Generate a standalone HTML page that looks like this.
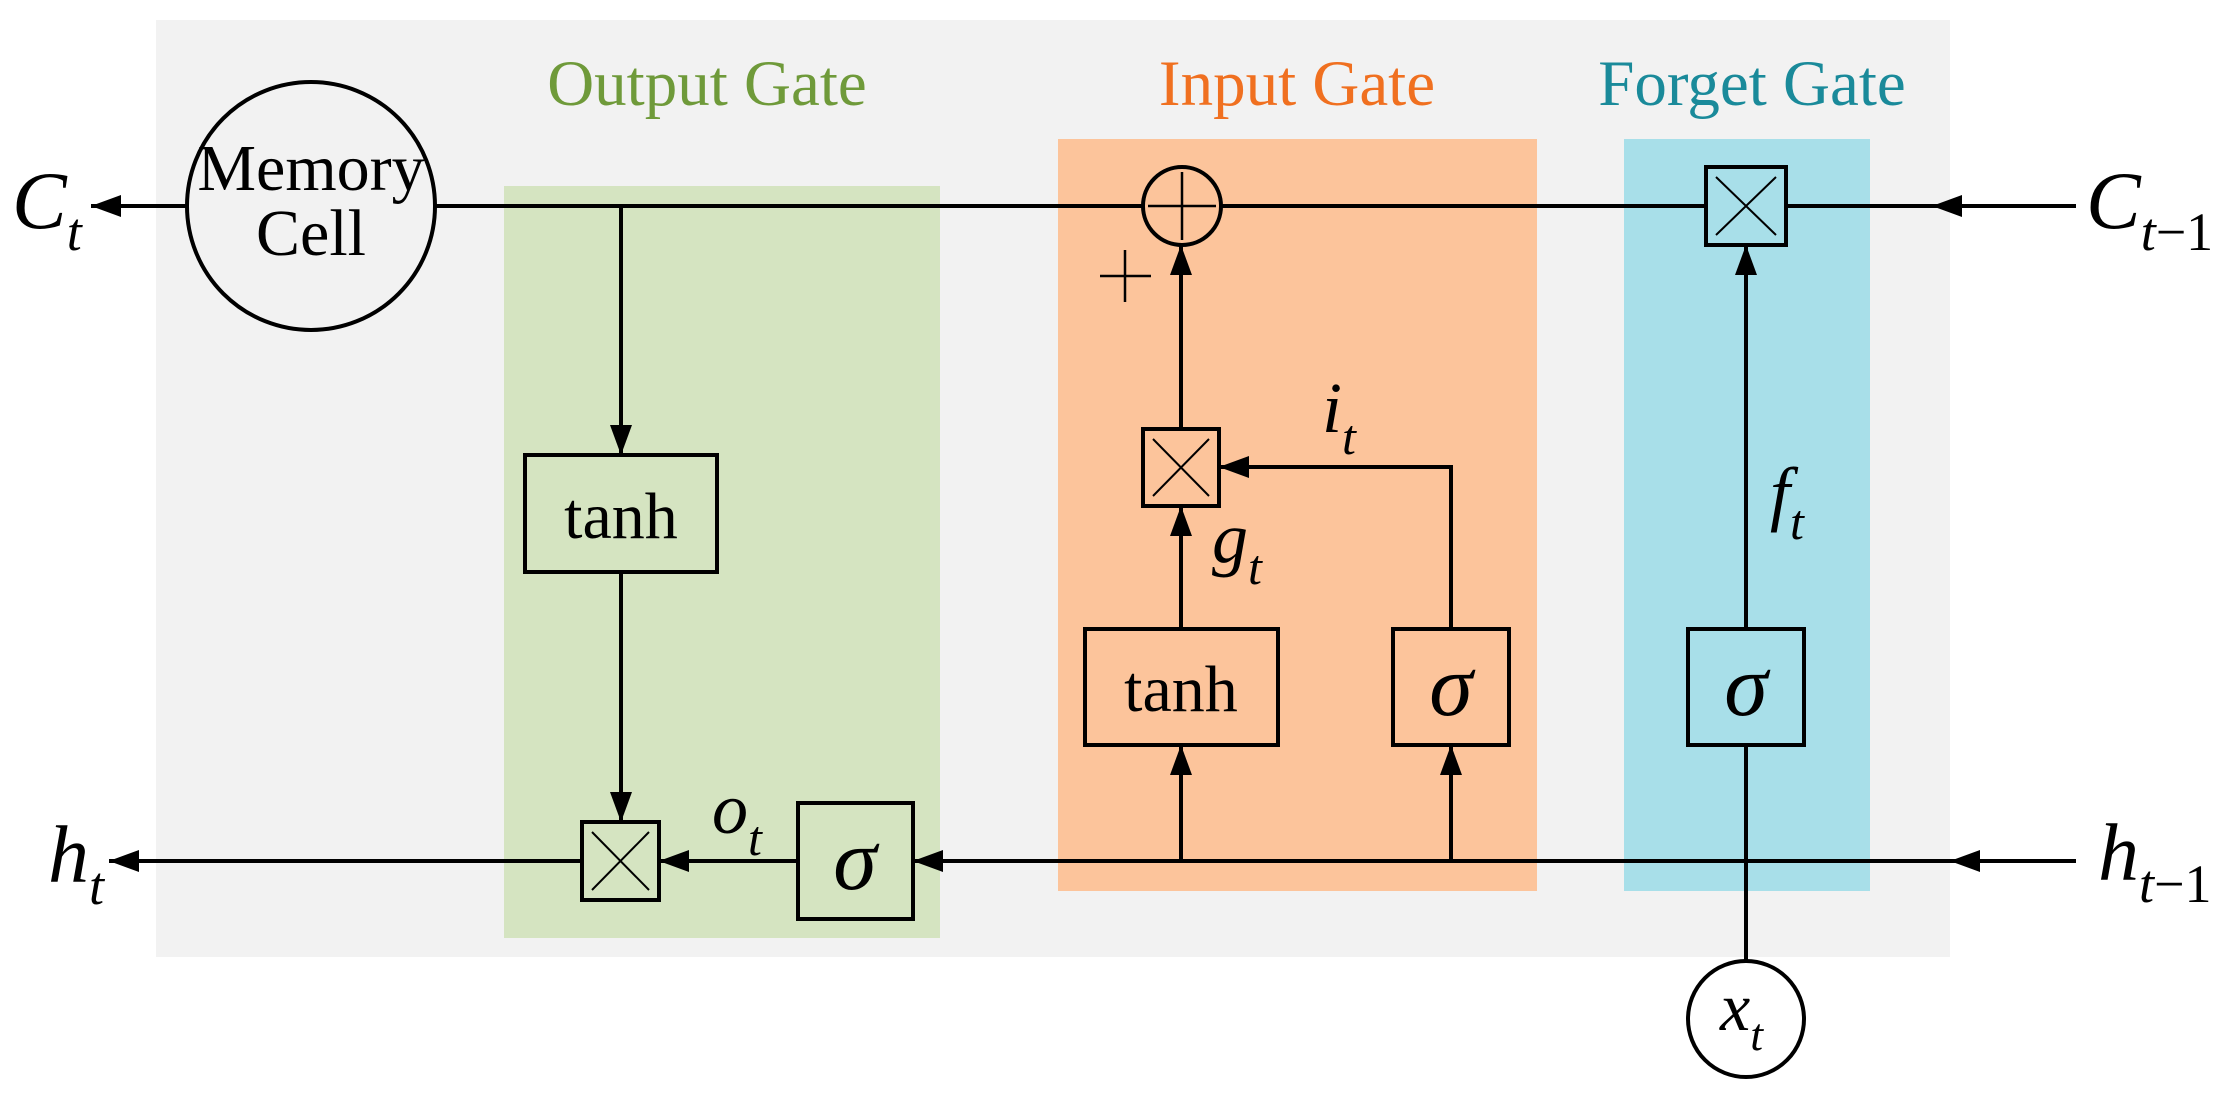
<!DOCTYPE html>
<html><head><meta charset="utf-8"><style>
html,body{margin:0;padding:0;background:#fff}
svg{display:block}
text{font-family:"Liberation Serif","DejaVu Serif",serif}
.it{font-style:italic}
</style></head><body>
<svg width="2215" height="1102" viewBox="0 0 2215 1102" xmlns="http://www.w3.org/2000/svg">
<defs>
<marker id="a" markerUnits="userSpaceOnUse" markerWidth="32" markerHeight="22" refX="30" refY="11" orient="auto">
<path d="M0,0 L30,11 L0,22 Z" fill="#000"/>
</marker>
</defs>
<rect x="156" y="20" width="1794" height="937" fill="#f2f2f2"/>
<rect x="504" y="186" width="436" height="752" fill="#d5e4c1"/>
<rect x="1058" y="139" width="479" height="752" fill="#fcc49b"/>
<rect x="1624" y="139" width="246" height="752" fill="#a8dfe9"/>

<text x="707" y="105" font-size="65" fill="#6f9a3a" text-anchor="middle">Output Gate</text>
<text x="1297" y="105" font-size="65" fill="#f07020" text-anchor="middle">Input Gate</text>
<text x="1752" y="105" font-size="65" fill="#1a8a9a" text-anchor="middle">Forget Gate</text>

<g stroke="#000" stroke-width="4" fill="none">
<line x1="188" y1="206" x2="91" y2="206" marker-end="url(#a)"/>
<line x1="435" y1="206" x2="1143" y2="206"/>
<line x1="1221" y1="206" x2="1706" y2="206"/>
<line x1="2076" y1="206" x2="1932" y2="206" marker-end="url(#a)"/>
<line x1="1935" y1="206" x2="1786" y2="206"/>
<line x1="621" y1="206" x2="621" y2="455" marker-end="url(#a)"/>
<line x1="621" y1="572" x2="621" y2="822" marker-end="url(#a)"/>
<line x1="582" y1="861" x2="109" y2="861" marker-end="url(#a)"/>
<line x1="798" y1="861" x2="659" y2="861" marker-end="url(#a)"/>
<line x1="2076" y1="861" x2="1950" y2="861" marker-end="url(#a)"/>
<line x1="1953" y1="861" x2="913" y2="861" marker-end="url(#a)"/>
<line x1="1181" y1="861" x2="1181" y2="745" marker-end="url(#a)"/>
<line x1="1451" y1="861" x2="1451" y2="745" marker-end="url(#a)"/>
<line x1="1181" y1="629" x2="1181" y2="506" marker-end="url(#a)"/>
<line x1="1181" y1="429" x2="1181" y2="245" marker-end="url(#a)"/>
<polyline points="1451,629 1451,467 1219,467" marker-end="url(#a)"/>
<line x1="1746" y1="961" x2="1746" y2="745"/>
<line x1="1746" y1="629" x2="1746" y2="245" marker-end="url(#a)"/>

<circle cx="311" cy="206" r="124"/>
<rect x="525" y="455" width="192" height="117"/>
<rect x="582" y="822" width="77" height="78"/>
<path d="M592,832 L649,890 M649,832 L592,890" stroke-width="2"/>
<rect x="798" y="803" width="115" height="116"/>
<circle cx="1182" cy="206" r="39"/>
<path d="M1182,172 V240 M1148,206 H1216" stroke-width="2.5"/>
<path d="M1100,276 H1151 M1125,250 V302" stroke-width="2.5"/>
<rect x="1143" y="429" width="76" height="77"/>
<path d="M1153,439 L1209,496 M1209,439 L1153,496" stroke-width="2"/>
<rect x="1085" y="629" width="193" height="116"/>
<rect x="1393" y="629" width="116" height="116"/>
<rect x="1706" y="167" width="80" height="78"/>
<path d="M1716,177 L1776,235 M1776,177 L1716,235" stroke-width="2"/>
<rect x="1688" y="629" width="116" height="116"/>
<circle cx="1746" cy="1019" r="58" fill="#fff"/>
</g>

<text x="311" y="190" font-size="66" text-anchor="middle">Memory</text>
<text x="311" y="255" font-size="66" text-anchor="middle">Cell</text>
<text x="621" y="538" font-size="66" text-anchor="middle">tanh</text>
<text x="1181" y="711" font-size="66" text-anchor="middle">tanh</text>
<text x="855" y="889" font-size="88" class="it" text-anchor="middle">σ</text>
<text x="1451" y="715" font-size="88" class="it" text-anchor="middle">σ</text>
<text x="1746" y="715" font-size="88" class="it" text-anchor="middle">σ</text>

<text x="12" y="228" font-size="82" class="it">C<tspan font-size="54" dy="22">t</tspan></text>
<text x="2086" y="228" font-size="82" class="it">C<tspan font-size="54" dy="22">t</tspan><tspan font-style="normal" font-size="54">−1</tspan></text>
<text x="48" y="882" font-size="82" class="it">h<tspan font-size="54" dy="22">t</tspan></text>
<text x="2098" y="880" font-size="82" class="it">h<tspan font-size="54" dy="22">t</tspan><tspan font-style="normal" font-size="54">−1</tspan></text>
<text x="712" y="833" font-size="72" class="it">o<tspan font-size="50" dy="22">t</tspan></text>
<text x="1322" y="432" font-size="72" class="it">i<tspan font-size="50" dy="22">t</tspan></text>
<text x="1212" y="562" font-size="72" class="it">g<tspan font-size="50" dy="22">t</tspan></text>
<text x="1770" y="517" font-size="72" class="it">f<tspan font-size="50" dy="22">t</tspan></text>
<text x="1720" y="1030" font-size="68" class="it">x<tspan font-size="46" dy="20">t</tspan></text>
</svg>
</body></html>
